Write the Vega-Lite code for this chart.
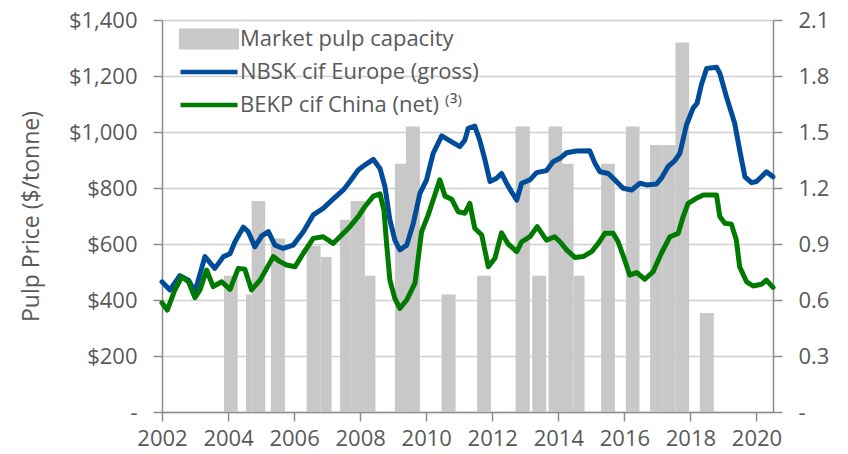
{
  "$schema": "https://vega.github.io/schema/vega-lite/v6.json",
  "width": 611,
  "height": 392,
  "autosize": {"type": "none"},
  "padding": {"left": 162, "top": 20, "right": 75, "bottom": 42},
  "background": "white",
  "config": {
    "view": {"stroke": null},
    "font": "Open Sans",
    "axis": {
      "labelFont": "Open Sans", "labelFontSize": 22, "labelColor": "#595959",
      "titleFont": "Open Sans", "titleFontSize": 23, "titleColor": "#595959", "titleFontWeight": "normal",
      "domainColor": "#8C8C8C", "tickColor": "#8C8C8C", "domainWidth": 1.5, "tickWidth": 1.5, "tickSize": 9,
      "gridColor": "#D0D0D0", "gridWidth": 1.5
    },
    "legend": {"labelFont": "Open Sans", "labelFontSize": 22, "labelColor": "#595959", "labelLimit": 500}
  },
  "datasets": {
    "bars": [
      {"start": 2003.877, "end": 2004.291, "cap": 0.73},
      {"start": 2004.542, "end": 2004.715, "cap": 0.63},
      {"start": 2004.715, "end": 2005.126, "cap": 1.13},
      {"start": 2005.299, "end": 2005.723, "cap": 0.93},
      {"start": 2006.380, "end": 2006.803, "cap": 0.89},
      {"start": 2006.803, "end": 2007.136, "cap": 0.83},
      {"start": 2007.387, "end": 2007.711, "cap": 1.03},
      {"start": 2007.711, "end": 2008.144, "cap": 1.13},
      {"start": 2008.144, "end": 2008.462, "cap": 0.73},
      {"start": 2009.052, "end": 2009.385, "cap": 1.33},
      {"start": 2009.385, "end": 2009.809, "cap": 1.53},
      {"start": 2010.466, "end": 2010.889, "cap": 0.63},
      {"start": 2011.543, "end": 2011.958, "cap": 0.73},
      {"start": 2012.705, "end": 2013.138, "cap": 1.53},
      {"start": 2013.208, "end": 2013.632, "cap": 0.73},
      {"start": 2013.704, "end": 2014.116, "cap": 1.53},
      {"start": 2014.116, "end": 2014.461, "cap": 1.33},
      {"start": 2014.461, "end": 2014.794, "cap": 0.73},
      {"start": 2015.296, "end": 2015.711, "cap": 1.33},
      {"start": 2016.044, "end": 2016.458, "cap": 1.53},
      {"start": 2016.779, "end": 2017.163, "cap": 1.43},
      {"start": 2017.163, "end": 2017.548, "cap": 1.43},
      {"start": 2017.548, "end": 2017.960, "cap": 1.98},
      {"start": 2018.283, "end": 2018.707, "cap": 0.53}
    ],
    "prices": [
      {"series": "NBSK cif Europe (gross)", "t": 2002.00, "price": 465},
      {"series": "NBSK cif Europe (gross)", "t": 2002.24, "price": 436},
      {"series": "NBSK cif Europe (gross)", "t": 2002.54, "price": 487},
      {"series": "NBSK cif Europe (gross)", "t": 2002.80, "price": 471},
      {"series": "NBSK cif Europe (gross)", "t": 2003.00, "price": 430},
      {"series": "NBSK cif Europe (gross)", "t": 2003.30, "price": 555},
      {"series": "NBSK cif Europe (gross)", "t": 2003.60, "price": 513},
      {"series": "NBSK cif Europe (gross)", "t": 2003.86, "price": 555},
      {"series": "NBSK cif Europe (gross)", "t": 2004.06, "price": 565},
      {"series": "NBSK cif Europe (gross)", "t": 2004.21, "price": 608},
      {"series": "NBSK cif Europe (gross)", "t": 2004.46, "price": 660},
      {"series": "NBSK cif Europe (gross)", "t": 2004.61, "price": 644},
      {"series": "NBSK cif Europe (gross)", "t": 2004.81, "price": 590},
      {"series": "NBSK cif Europe (gross)", "t": 2005.02, "price": 629},
      {"series": "NBSK cif Europe (gross)", "t": 2005.22, "price": 644},
      {"series": "NBSK cif Europe (gross)", "t": 2005.42, "price": 596},
      {"series": "NBSK cif Europe (gross)", "t": 2005.67, "price": 584},
      {"series": "NBSK cif Europe (gross)", "t": 2005.97, "price": 596},
      {"series": "NBSK cif Europe (gross)", "t": 2006.28, "price": 644},
      {"series": "NBSK cif Europe (gross)", "t": 2006.58, "price": 704},
      {"series": "NBSK cif Europe (gross)", "t": 2006.88, "price": 727},
      {"series": "NBSK cif Europe (gross)", "t": 2007.18, "price": 760},
      {"series": "NBSK cif Europe (gross)", "t": 2007.49, "price": 793},
      {"series": "NBSK cif Europe (gross)", "t": 2007.69, "price": 823},
      {"series": "NBSK cif Europe (gross)", "t": 2007.94, "price": 864},
      {"series": "NBSK cif Europe (gross)", "t": 2008.14, "price": 882},
      {"series": "NBSK cif Europe (gross)", "t": 2008.40, "price": 902},
      {"series": "NBSK cif Europe (gross)", "t": 2008.60, "price": 870},
      {"series": "NBSK cif Europe (gross)", "t": 2008.75, "price": 805},
      {"series": "NBSK cif Europe (gross)", "t": 2008.90, "price": 686},
      {"series": "NBSK cif Europe (gross)", "t": 2009.05, "price": 614},
      {"series": "NBSK cif Europe (gross)", "t": 2009.20, "price": 579},
      {"series": "NBSK cif Europe (gross)", "t": 2009.41, "price": 596},
      {"series": "NBSK cif Europe (gross)", "t": 2009.61, "price": 674},
      {"series": "NBSK cif Europe (gross)", "t": 2009.81, "price": 781},
      {"series": "NBSK cif Europe (gross)", "t": 2010.01, "price": 829},
      {"series": "NBSK cif Europe (gross)", "t": 2010.21, "price": 924},
      {"series": "NBSK cif Europe (gross)", "t": 2010.47, "price": 986},
      {"series": "NBSK cif Europe (gross)", "t": 2010.77, "price": 965},
      {"series": "NBSK cif Europe (gross)", "t": 2011.02, "price": 948},
      {"series": "NBSK cif Europe (gross)", "t": 2011.17, "price": 971},
      {"series": "NBSK cif Europe (gross)", "t": 2011.27, "price": 1013},
      {"series": "NBSK cif Europe (gross)", "t": 2011.47, "price": 1021},
      {"series": "NBSK cif Europe (gross)", "t": 2011.62, "price": 971},
      {"series": "NBSK cif Europe (gross)", "t": 2011.78, "price": 900},
      {"series": "NBSK cif Europe (gross)", "t": 2011.93, "price": 823},
      {"series": "NBSK cif Europe (gross)", "t": 2012.13, "price": 835},
      {"series": "NBSK cif Europe (gross)", "t": 2012.28, "price": 852},
      {"series": "NBSK cif Europe (gross)", "t": 2012.43, "price": 817},
      {"series": "NBSK cif Europe (gross)", "t": 2012.58, "price": 787},
      {"series": "NBSK cif Europe (gross)", "t": 2012.74, "price": 757},
      {"series": "NBSK cif Europe (gross)", "t": 2012.89, "price": 817},
      {"series": "NBSK cif Europe (gross)", "t": 2013.14, "price": 829},
      {"series": "NBSK cif Europe (gross)", "t": 2013.34, "price": 855},
      {"series": "NBSK cif Europe (gross)", "t": 2013.64, "price": 862},
      {"series": "NBSK cif Europe (gross)", "t": 2013.84, "price": 894},
      {"series": "NBSK cif Europe (gross)", "t": 2014.05, "price": 906},
      {"series": "NBSK cif Europe (gross)", "t": 2014.25, "price": 926},
      {"series": "NBSK cif Europe (gross)", "t": 2014.55, "price": 932},
      {"series": "NBSK cif Europe (gross)", "t": 2014.95, "price": 933},
      {"series": "NBSK cif Europe (gross)", "t": 2015.11, "price": 888},
      {"series": "NBSK cif Europe (gross)", "t": 2015.26, "price": 858},
      {"series": "NBSK cif Europe (gross)", "t": 2015.51, "price": 852},
      {"series": "NBSK cif Europe (gross)", "t": 2015.71, "price": 829},
      {"series": "NBSK cif Europe (gross)", "t": 2015.96, "price": 799},
      {"series": "NBSK cif Europe (gross)", "t": 2016.22, "price": 793},
      {"series": "NBSK cif Europe (gross)", "t": 2016.47, "price": 817},
      {"series": "NBSK cif Europe (gross)", "t": 2016.67, "price": 811},
      {"series": "NBSK cif Europe (gross)", "t": 2016.97, "price": 814},
      {"series": "NBSK cif Europe (gross)", "t": 2017.12, "price": 835},
      {"series": "NBSK cif Europe (gross)", "t": 2017.32, "price": 876},
      {"series": "NBSK cif Europe (gross)", "t": 2017.53, "price": 898},
      {"series": "NBSK cif Europe (gross)", "t": 2017.68, "price": 924},
      {"series": "NBSK cif Europe (gross)", "t": 2017.88, "price": 1025},
      {"series": "NBSK cif Europe (gross)", "t": 2018.08, "price": 1085},
      {"series": "NBSK cif Europe (gross)", "t": 2018.20, "price": 1102},
      {"series": "NBSK cif Europe (gross)", "t": 2018.33, "price": 1168},
      {"series": "NBSK cif Europe (gross)", "t": 2018.49, "price": 1227},
      {"series": "NBSK cif Europe (gross)", "t": 2018.79, "price": 1231},
      {"series": "NBSK cif Europe (gross)", "t": 2018.89, "price": 1210},
      {"series": "NBSK cif Europe (gross)", "t": 2019.09, "price": 1126},
      {"series": "NBSK cif Europe (gross)", "t": 2019.34, "price": 1031},
      {"series": "NBSK cif Europe (gross)", "t": 2019.49, "price": 936},
      {"series": "NBSK cif Europe (gross)", "t": 2019.65, "price": 840},
      {"series": "NBSK cif Europe (gross)", "t": 2019.85, "price": 819},
      {"series": "NBSK cif Europe (gross)", "t": 2020.00, "price": 823},
      {"series": "NBSK cif Europe (gross)", "t": 2020.15, "price": 840},
      {"series": "NBSK cif Europe (gross)", "t": 2020.30, "price": 858},
      {"series": "NBSK cif Europe (gross)", "t": 2020.50, "price": 840},
      {"series": "BEKP cif China (net) ⁽³⁾", "t": 2002.00, "price": 390},
      {"series": "BEKP cif China (net) ⁽³⁾", "t": 2002.16, "price": 364},
      {"series": "BEKP cif China (net) ⁽³⁾", "t": 2002.39, "price": 436},
      {"series": "BEKP cif China (net) ⁽³⁾", "t": 2002.60, "price": 483},
      {"series": "BEKP cif China (net) ⁽³⁾", "t": 2002.80, "price": 465},
      {"series": "BEKP cif China (net) ⁽³⁾", "t": 2003.00, "price": 408},
      {"series": "BEKP cif China (net) ⁽³⁾", "t": 2003.15, "price": 436},
      {"series": "BEKP cif China (net) ⁽³⁾", "t": 2003.35, "price": 507},
      {"series": "BEKP cif China (net) ⁽³⁾", "t": 2003.55, "price": 448},
      {"series": "BEKP cif China (net) ⁽³⁾", "t": 2003.81, "price": 465},
      {"series": "BEKP cif China (net) ⁽³⁾", "t": 2004.06, "price": 438},
      {"series": "BEKP cif China (net) ⁽³⁾", "t": 2004.31, "price": 513},
      {"series": "BEKP cif China (net) ⁽³⁾", "t": 2004.51, "price": 510},
      {"series": "BEKP cif China (net) ⁽³⁾", "t": 2004.71, "price": 436},
      {"series": "BEKP cif China (net) ⁽³⁾", "t": 2004.97, "price": 471},
      {"series": "BEKP cif China (net) ⁽³⁾", "t": 2005.17, "price": 513},
      {"series": "BEKP cif China (net) ⁽³⁾", "t": 2005.37, "price": 555},
      {"series": "BEKP cif China (net) ⁽³⁾", "t": 2005.57, "price": 537},
      {"series": "BEKP cif China (net) ⁽³⁾", "t": 2005.77, "price": 525},
      {"series": "BEKP cif China (net) ⁽³⁾", "t": 2006.03, "price": 519},
      {"series": "BEKP cif China (net) ⁽³⁾", "t": 2006.28, "price": 567},
      {"series": "BEKP cif China (net) ⁽³⁾", "t": 2006.58, "price": 620},
      {"series": "BEKP cif China (net) ⁽³⁾", "t": 2006.88, "price": 626},
      {"series": "BEKP cif China (net) ⁽³⁾", "t": 2007.18, "price": 602},
      {"series": "BEKP cif China (net) ⁽³⁾", "t": 2007.44, "price": 632},
      {"series": "BEKP cif China (net) ⁽³⁾", "t": 2007.69, "price": 662},
      {"series": "BEKP cif China (net) ⁽³⁾", "t": 2007.94, "price": 698},
      {"series": "BEKP cif China (net) ⁽³⁾", "t": 2008.14, "price": 733},
      {"series": "BEKP cif China (net) ⁽³⁾", "t": 2008.40, "price": 771},
      {"series": "BEKP cif China (net) ⁽³⁾", "t": 2008.60, "price": 779},
      {"series": "BEKP cif China (net) ⁽³⁾", "t": 2008.72, "price": 721},
      {"series": "BEKP cif China (net) ⁽³⁾", "t": 2008.80, "price": 602},
      {"series": "BEKP cif China (net) ⁽³⁾", "t": 2008.90, "price": 471},
      {"series": "BEKP cif China (net) ⁽³⁾", "t": 2009.05, "price": 406},
      {"series": "BEKP cif China (net) ⁽³⁾", "t": 2009.20, "price": 370},
      {"series": "BEKP cif China (net) ⁽³⁾", "t": 2009.41, "price": 400},
      {"series": "BEKP cif China (net) ⁽³⁾", "t": 2009.66, "price": 460},
      {"series": "BEKP cif China (net) ⁽³⁾", "t": 2009.86, "price": 644},
      {"series": "BEKP cif China (net) ⁽³⁾", "t": 2010.06, "price": 704},
      {"series": "BEKP cif China (net) ⁽³⁾", "t": 2010.26, "price": 775},
      {"series": "BEKP cif China (net) ⁽³⁾", "t": 2010.41, "price": 829},
      {"series": "BEKP cif China (net) ⁽³⁾", "t": 2010.57, "price": 771},
      {"series": "BEKP cif China (net) ⁽³⁾", "t": 2010.77, "price": 760},
      {"series": "BEKP cif China (net) ⁽³⁾", "t": 2010.97, "price": 715},
      {"series": "BEKP cif China (net) ⁽³⁾", "t": 2011.17, "price": 710},
      {"series": "BEKP cif China (net) ⁽³⁾", "t": 2011.32, "price": 745},
      {"series": "BEKP cif China (net) ⁽³⁾", "t": 2011.47, "price": 656},
      {"series": "BEKP cif China (net) ⁽³⁾", "t": 2011.68, "price": 632},
      {"series": "BEKP cif China (net) ⁽³⁾", "t": 2011.88, "price": 519},
      {"series": "BEKP cif China (net) ⁽³⁾", "t": 2012.08, "price": 549},
      {"series": "BEKP cif China (net) ⁽³⁾", "t": 2012.28, "price": 640},
      {"series": "BEKP cif China (net) ⁽³⁾", "t": 2012.48, "price": 600},
      {"series": "BEKP cif China (net) ⁽³⁾", "t": 2012.74, "price": 573},
      {"series": "BEKP cif China (net) ⁽³⁾", "t": 2012.89, "price": 608},
      {"series": "BEKP cif China (net) ⁽³⁾", "t": 2013.14, "price": 626},
      {"series": "BEKP cif China (net) ⁽³⁾", "t": 2013.36, "price": 662},
      {"series": "BEKP cif China (net) ⁽³⁾", "t": 2013.64, "price": 614},
      {"series": "BEKP cif China (net) ⁽³⁾", "t": 2013.89, "price": 626},
      {"series": "BEKP cif China (net) ⁽³⁾", "t": 2014.05, "price": 608},
      {"series": "BEKP cif China (net) ⁽³⁾", "t": 2014.25, "price": 579},
      {"series": "BEKP cif China (net) ⁽³⁾", "t": 2014.50, "price": 552},
      {"series": "BEKP cif China (net) ⁽³⁾", "t": 2014.75, "price": 555},
      {"series": "BEKP cif China (net) ⁽³⁾", "t": 2015.01, "price": 573},
      {"series": "BEKP cif China (net) ⁽³⁾", "t": 2015.21, "price": 602},
      {"series": "BEKP cif China (net) ⁽³⁾", "t": 2015.41, "price": 638},
      {"series": "BEKP cif China (net) ⁽³⁾", "t": 2015.66, "price": 638},
      {"series": "BEKP cif China (net) ⁽³⁾", "t": 2015.81, "price": 608},
      {"series": "BEKP cif China (net) ⁽³⁾", "t": 2016.01, "price": 543},
      {"series": "BEKP cif China (net) ⁽³⁾", "t": 2016.16, "price": 489},
      {"series": "BEKP cif China (net) ⁽³⁾", "t": 2016.37, "price": 498},
      {"series": "BEKP cif China (net) ⁽³⁾", "t": 2016.62, "price": 474},
      {"series": "BEKP cif China (net) ⁽³⁾", "t": 2016.87, "price": 501},
      {"series": "BEKP cif China (net) ⁽³⁾", "t": 2017.12, "price": 567},
      {"series": "BEKP cif China (net) ⁽³⁾", "t": 2017.38, "price": 626},
      {"series": "BEKP cif China (net) ⁽³⁾", "t": 2017.63, "price": 638},
      {"series": "BEKP cif China (net) ⁽³⁾", "t": 2017.78, "price": 698},
      {"series": "BEKP cif China (net) ⁽³⁾", "t": 2017.93, "price": 745},
      {"series": "BEKP cif China (net) ⁽³⁾", "t": 2018.18, "price": 763},
      {"series": "BEKP cif China (net) ⁽³⁾", "t": 2018.39, "price": 775},
      {"series": "BEKP cif China (net) ⁽³⁾", "t": 2018.79, "price": 775},
      {"series": "BEKP cif China (net) ⁽³⁾", "t": 2018.89, "price": 698},
      {"series": "BEKP cif China (net) ⁽³⁾", "t": 2019.04, "price": 674},
      {"series": "BEKP cif China (net) ⁽³⁾", "t": 2019.24, "price": 671},
      {"series": "BEKP cif China (net) ⁽³⁾", "t": 2019.39, "price": 614},
      {"series": "BEKP cif China (net) ⁽³⁾", "t": 2019.49, "price": 519},
      {"series": "BEKP cif China (net) ⁽³⁾", "t": 2019.70, "price": 465},
      {"series": "BEKP cif China (net) ⁽³⁾", "t": 2019.90, "price": 450},
      {"series": "BEKP cif China (net) ⁽³⁾", "t": 2020.15, "price": 456},
      {"series": "BEKP cif China (net) ⁽³⁾", "t": 2020.30, "price": 471},
      {"series": "BEKP cif China (net) ⁽³⁾", "t": 2020.50, "price": 445}
    ]
  },
  "layer": [
    {
      "data": {"name": "bars"},
      "mark": {"type": "rect", "color": "#C8C8C8"},
      "encoding": {
        "x": {"field": "start", "type": "quantitative", "scale": {"domain": [2002, 2020.5], "nice": false, "zero": false},
              "axis": {"values": [2002,2004,2006,2008,2010,2012,2014,2016,2018,2020], "format": "d", "title": null, "grid": false, "labelPadding": 7, "labelFlush": false}},
        "x2": {"field": "end"},
        "y": {"field": "cap", "type": "quantitative", "scale": {"domain": [0, 2.1], "nice": false},
              "axis": {"orient": "right", "values": [0,0.3,0.6,0.9,1.2,1.5,1.8,2.1], "labelExpr": "datum.value == 0 ? '-' : format(datum.value, '.1f')", "title": null, "grid": false, "labelPadding": 16}},
        "color": {"datum": "Market pulp capacity", "type": "nominal",
          "scale": {"domain": ["Market pulp capacity", "NBSK cif Europe (gross)", "BEKP cif China (net) ⁽³⁾"], "range": ["#C8C8C8", "#004C99", "#007A00"]},
          "legend": {
            "orient": "none", "legendX": 36, "legendY": 8, "title": null, "symbolSize": 3600, "labelOffset": 20, "rowPadding": 11, "labelLimit": 500,
            "encode": {"symbols": {"update": {
              "shape": {"signal": "datum.value === 'Market pulp capacity' ? 'M-1,-0.35H1V0.35H-1Z' : 'M-0.95,0H0.95'"},
              "fill": {"signal": "datum.value === 'Market pulp capacity' ? '#C8C8C8' : 'transparent'"},
              "stroke": {"signal": "datum.value === 'Market pulp capacity' ? 'transparent' : (datum.value === 'NBSK cif Europe (gross)' ? '#004C99' : '#007A00')"},
              "strokeWidth": {"signal": "datum.value === 'Market pulp capacity' ? 0 : 4.5"},
              "opacity": {"value": 1}
            }}}
          }}
      }
    },
    {
      "data": {"name": "prices"},
      "mark": {"type": "line", "strokeWidth": 5, "strokeJoin": "round", "strokeCap": "round"},
      "encoding": {
        "x": {"field": "t", "type": "quantitative"},
        "y": {"field": "price", "type": "quantitative", "scale": {"domain": [0, 1400], "nice": false},
              "axis": {"orient": "left", "values": [0,200,400,600,800,1000,1200,1400], "labelExpr": "datum.value == 0 ? '-' : '$' + format(datum.value, ',')", "title": "Pulp Price ($/tonne)", "grid": true, "labelPadding": 16, "titleX": -131, "titleY": 196, "titleAngle": -90, "titleAlign": "center", "titleBaseline": "middle"}},
        "color": {"field": "series", "type": "nominal", "legend": {"title": null, "labelLimit": 500, "rowPadding": 11}},
        "detail": {"field": "series"}
      }
    }
  ],
  "resolve": {"scale": {"y": "independent"}}
}
